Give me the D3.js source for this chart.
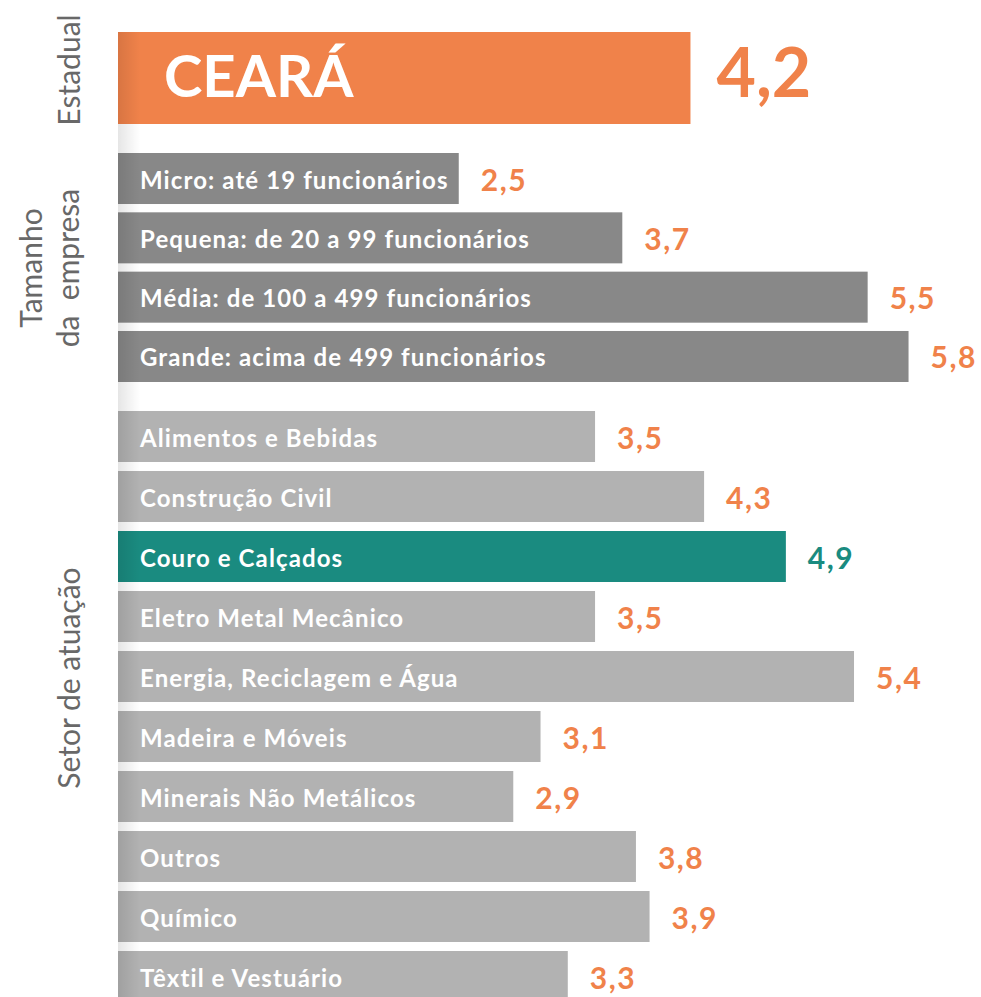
<!DOCTYPE html>
<html>
<head>
<meta charset="utf-8">
<script src="https://cdn.jsdelivr.net/npm/d3@7"></script>
<style>
    body { margin: 0; background: #fff; }
    #chart-area { width: 981px; height: 997px; overflow: hidden; }
    .bar-label { font-family: Lato, "Open Sans", sans-serif; font-weight: 700; fill: #fff; }
    .value-label { font-family: Lato, "Open Sans", sans-serif; font-weight: 700; }
    .group-title { font-family: Lato, "Open Sans", sans-serif; font-weight: 400; fill: #686868; white-space: pre; }
</style>
</head>
<body>
<div id="chart-area"></div>
<script>
// Estadual
const stateLabels = ["CEARÁ"];
const stateValues = [4.2];

// Tamanho da empresa
const sizeLabels = [
    "Micro: até 19 funcionários",
    "Pequena: de 20 a 99 funcionários",
    "Média: de 100 a 499 funcionários",
    "Grande: acima de 499 funcionários"
];
const sizeValues = [2.5, 3.7, 5.5, 5.8];

// Setor de atuação
const sectorLabels = [
    "Alimentos e Bebidas",
    "Construção Civil",
    "Couro e Calçados",
    "Eletro Metal Mecânico",
    "Energia, Reciclagem e Água",
    "Madeira e Móveis",
    "Minerais Não Metálicos",
    "Outros",
    "Químico",
    "Têxtil e Vestuário"
];
const sectorValues = [3.5, 4.3, 4.9, 3.5, 5.4, 3.1, 2.9, 3.8, 3.9, 3.3];
const highlightSector = "Couro e Calçados";

class BarVis {
    constructor(parentElement) {
        this.parentElement = parentElement;
        this.initVis();
    }

    initVis() {
        let vis = this;

        vis.width = 981;
        vis.height = 997;

        vis.svg = d3.select("#" + vis.parentElement).append("svg")
            .attr("width", vis.width)
            .attr("height", vis.height);

        //Shared x scale for every group
        vis.x = d3.scaleLinear().domain([0, 6]).range([118, 118 + 6 * 136.3]);

        //One band scale per group
        vis.yState = d3.scaleBand().domain(stateLabels).range([32, 124]).padding(0);
        vis.ySize = d3.scaleBand().domain(sizeLabels).range([153, 382]).paddingInner(0.14).paddingOuter(0);
        vis.ySector = d3.scaleBand().domain(sectorLabels).range([411, 1002]).paddingInner(0.15).paddingOuter(0);

        //Brazilian number format: 4,2
        vis.fmt = d3.formatLocale({ decimal: ",", thousands: ".", grouping: [3], currency: ["R$", ""] }).format(".1f");

        vis.colors = {
            orange: "#f0824a",
            dark: "#888888",
            light: "#b2b2b2",
            teal: "#1a8b80"
        };

        vis.wrangleData();
    }

    wrangleData() {
        let vis = this;

        vis.stateData = stateLabels.map((d, i) => ({ label: d, value: stateValues[i] }));
        vis.sizeData = sizeLabels.map((d, i) => ({ label: d, value: sizeValues[i] }));
        vis.sectorData = sectorLabels.map((d, i) => ({ label: d, value: sectorValues[i] }));

        vis.updateVis();
    }

    updateVis() {
        let vis = this;

        //Estadual bar
        vis.svg.selectAll(".state-bar")
            .data(vis.stateData)
            .join("rect")
            .attr("class", "state-bar")
            .attr("x", vis.x(0))
            .attr("y", d => vis.yState(d.label))
            .attr("width", d => vis.x(d.value) - vis.x(0))
            .attr("height", vis.yState.bandwidth())
            .attr("fill", vis.colors.orange);

        vis.svg.selectAll(".state-label")
            .data(vis.stateData)
            .join("text")
            .attr("class", "bar-label state-label")
            .attr("x", 164)
            .attr("y", d => vis.yState(d.label) + vis.yState.bandwidth() / 2 + 19)
            .style("font-size", "58px")
            .text(d => d.label);

        vis.svg.selectAll(".state-value")
            .data(vis.stateData)
            .join("text")
            .attr("class", "value-label state-value")
            .attr("x", d => vis.x(d.value) + 26)
            .attr("y", d => vis.yState(d.label) + vis.yState.bandwidth() / 2 + 19)
            .attr("fill", vis.colors.orange)
            .style("font-size", "68px")
            .text(d => vis.fmt(d.value));

        //Tamanho da empresa + Setor de atuação
        vis.drawGroup("size", vis.sizeData, vis.ySize, () => vis.colors.dark, () => vis.colors.orange);
        vis.drawGroup("sector", vis.sectorData, vis.ySector,
            d => d.label === highlightSector ? vis.colors.teal : vis.colors.light,
            d => d.label === highlightSector ? vis.colors.teal : vis.colors.orange);

        //Soft shadow on the left edge of the bars
        let grad = vis.svg.append("defs").append("linearGradient")
            .attr("id", "edge-shadow")
            .attr("x1", "0%").attr("x2", "100%");
        grad.append("stop").attr("offset", "0%").attr("stop-color", "#000").attr("stop-opacity", 0.1);
        grad.append("stop").attr("offset", "100%").attr("stop-color", "#000").attr("stop-opacity", 0);

        vis.svg.append("rect")
            .attr("x", vis.x(0))
            .attr("y", vis.yState.range()[0])
            .attr("width", 22)
            .attr("height", vis.height - vis.yState.range()[0])
            .attr("fill", "url(#edge-shadow)");

        //Group titles (rotated)
        let titles = [
            { lines: ["Estadual"], x: [80], y: 70 },
            { lines: ["Tamanho", "da  empresa"], x: [42, 79], y: 268 },
            { lines: ["Setor de atuação"], x: [80], y: 678 }
        ];
        titles.forEach(t => {
            t.lines.forEach((line, i) => {
                vis.svg.append("text")
                    .attr("class", "group-title")
                    .attr("transform", `translate(${t.x[i]},${t.y}) rotate(-90)`)
                    .attr("text-anchor", "middle")
                    .style("font-size", "30px")
                    .text(line);
            });
        });
    }

    drawGroup(name, data, y, barColor, valueColor) {
        let vis = this;

        vis.svg.selectAll(`.${name}-bar`)
            .data(data)
            .join("rect")
            .attr("class", `${name}-bar`)
            .attr("x", vis.x(0))
            .attr("y", d => y(d.label))
            .attr("width", d => vis.x(d.value) - vis.x(0))
            .attr("height", y.bandwidth())
            .attr("fill", barColor);

        vis.svg.selectAll(`.${name}-label`)
            .data(data)
            .join("text")
            .attr("class", `bar-label ${name}-label`)
            .attr("x", 140)
            .attr("y", d => y(d.label) + y.bandwidth() / 2 + 10)
            .style("font-size", "24px")
            .style("letter-spacing", "1.1px")
            .text(d => d.label);

        vis.svg.selectAll(`.${name}-value`)
            .data(data)
            .join("text")
            .attr("class", `value-label ${name}-value`)
            .attr("x", d => vis.x(d.value) + 22)
            .attr("y", d => y(d.label) + y.bandwidth() / 2 + 12)
            .attr("fill", valueColor)
            .style("font-size", "30px")
            .style("letter-spacing", "1.5px")
            .text(d => vis.fmt(d.value));
    }
}

new BarVis("chart-area");
</script>
</body>
</html>
